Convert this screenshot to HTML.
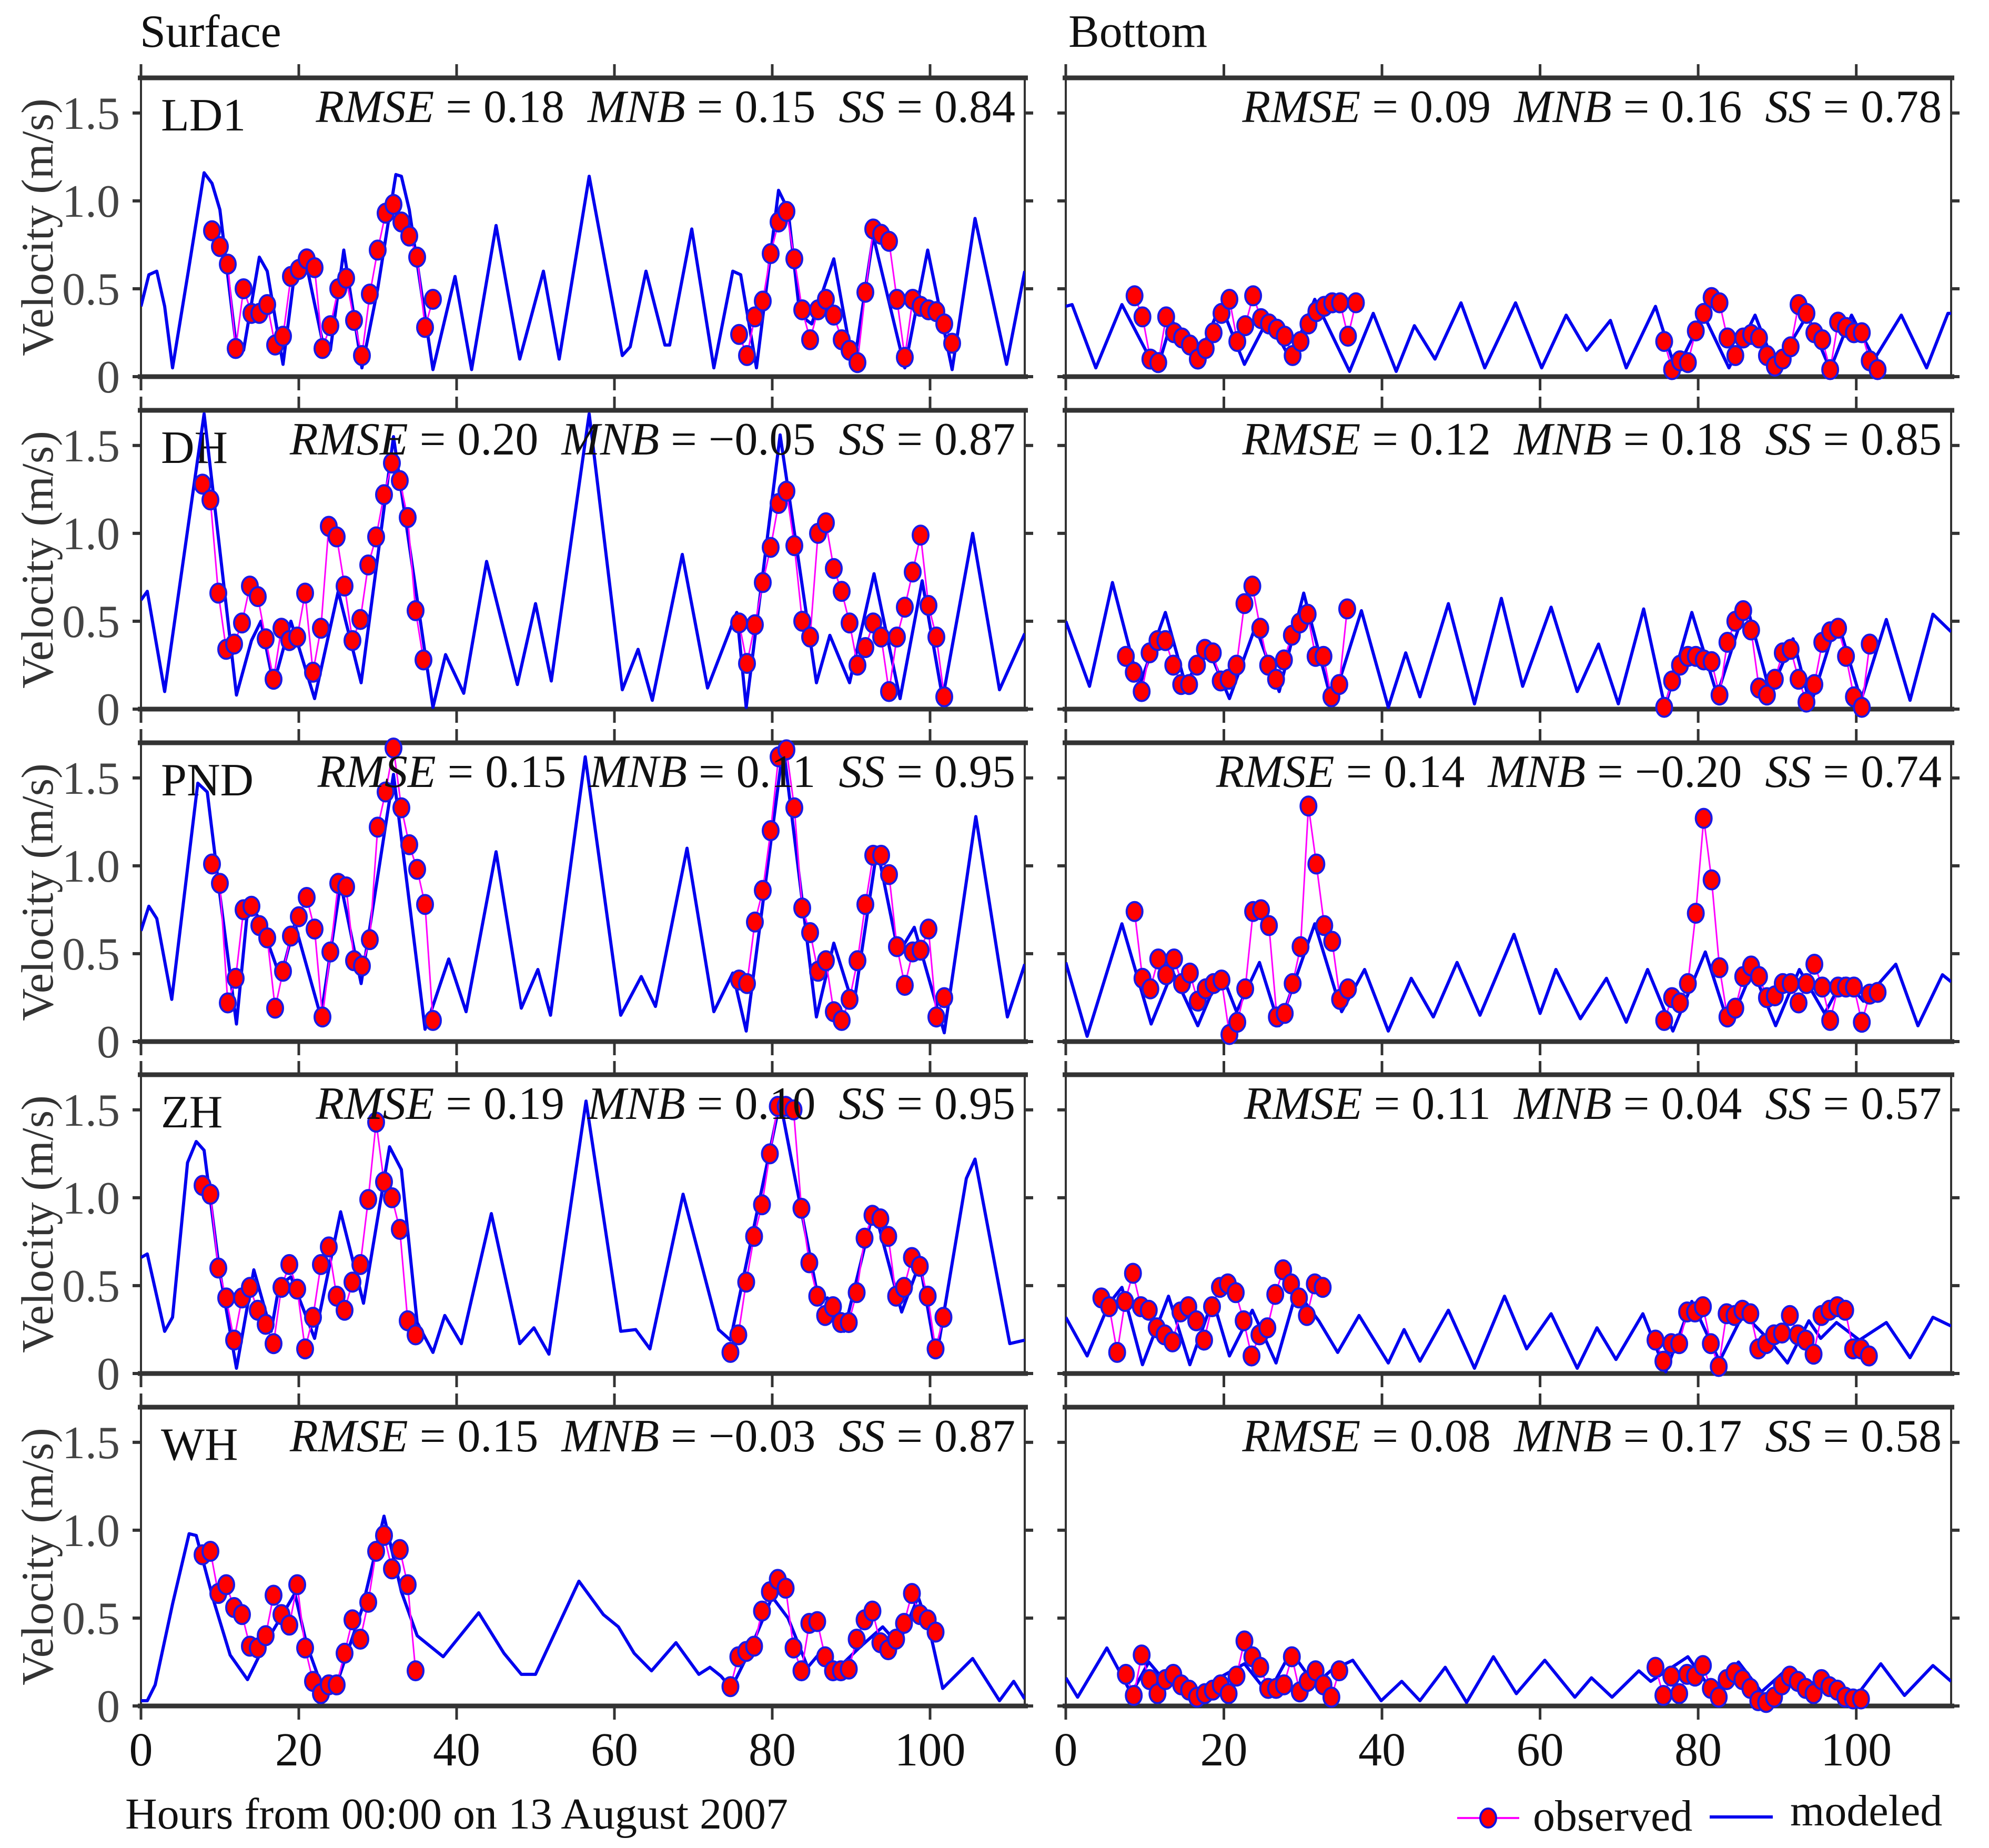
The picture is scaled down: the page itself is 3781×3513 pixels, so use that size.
<!DOCTYPE html>
<html><head><meta charset="utf-8"><title>Surface and bottom velocity: observed vs modeled</title>
<style>
html,body{margin:0;padding:0;background:#fff;}
svg{display:block;font-family:"Liberation Serif","DejaVu Serif",serif;}
text{white-space:pre;}
</style></head>
<body>
<svg id="chart" xmlns="http://www.w3.org/2000/svg" width="3781" height="3513" viewBox="0 0 3781 3513">
<rect x="0" y="0" width="3781" height="3513" fill="#fff"/>
<text x="266" y="89" font-size="88" fill="#111">Surface</text>
<text x="2031" y="89" font-size="88" fill="#111">Bottom</text>
<text x="238" y="3476" font-size="84" fill="#111">Hours from 00:00 on 13 August 2007</text>
<g>
  <line x1="2770" y1="3456" x2="2888" y2="3456" stroke="#ff00ff" stroke-width="4"/>
  <ellipse cx="2829" cy="3456" rx="15" ry="18" fill="#ff0000" stroke="#1010e0" stroke-width="4"/>
  <text x="2914" y="3480" font-size="84" fill="#111">observed</text>
  <line x1="3250" y1="3454" x2="3370" y2="3454" stroke="#0000ee" stroke-width="6"/>
  <text x="3403" y="3470" font-size="84" fill="#111">modeled</text>
</g>
<g id="panels"></g>
</svg>
<script>
// ---------- data ----------
const stations = ["LD1","DH","PND","ZH","WH"];
const surfStats = [["0.18","0.15","0.84"],["0.20","\u22120.05","0.87"],["0.15","0.11","0.95"],["0.19","0.10","0.95"],["0.15","\u22120.03","0.87"]];
const botStats  = [["0.09","0.16","0.78"],["0.12","0.18","0.85"],["0.14","\u22120.20","0.74"],["0.11","0.04","0.57"],["0.08","0.17","0.58"]];
const xTicks = [0,20,40,60,80,100];
const yTicks = [0,0.5,1.0,1.5];
const yTickLabels = ["0","0.5","1.0","1.5"];

// modeled series: [hour, velocity]
const ld1SurfModel = [[0,.4],[1,.58],[2,.6],[3,.4],[4,.05],[6,.6],[8,1.16],[9,1.1],[10,.95],[12,.2],[13,.15],[15,.68],[16,.6],[18,.07],[19.5,.6],[21,.63],[23,.2],[24,.15],[25.7,.72],[28,.05],[30,.5],[32.3,1.15],[33,1.14],[34,.95],[37,.04],[39.8,.57],[41.9,.04],[45,.86],[48,.1],[51,.6],[53,.1],[56.8,1.14],[61,.12],[62,.17],[64,.6],[66.4,.18],[67,.18],[69.8,.84],[72.6,.05],[75,.6],[76,.58],[78,.05],[80.8,1.06],[82,.95],[83.5,.35],[85,.3],[87.8,.67],[90.3,.05],[92.8,.8],[96.8,.05],[99.7,.72],[102.8,.04],[105.7,.9],[109.7,.07],[112,.6]];
const ld1BotModel = [[0,.4],[0.8,.41],[3.8,.05],[7.1,.41],[11.5,.03],[13.4,.32],[16.7,.1],[19.6,.41],[22.6,.07],[25.6,.33],[28.4,.1],[31.5,.44],[35.9,.03],[38.9,.36],[41.8,.03],[44.1,.29],[46.7,.1],[50,.42],[53,.05],[56.9,.42],[60.2,.05],[63.3,.35],[65.9,.15],[68.9,.32],[70.9,.05],[74.6,.4],[77.2,.03],[80.7,.35],[83.9,.05],[87.2,.35],[89.8,.05],[93.8,.35],[96.7,.04],[99.4,.35],[102.3,.1],[105.7,.35],[108.9,.05],[111.6,.36],[112,.36]];
const dhSurfModel = [[0,.62],[0.8,.67],[3,.1],[8,1.68],[9.9,.94],[12.1,.08],[14,.39],[15.2,.5],[16.8,.14],[19,.5],[22,.06],[25,.67],[27.9,.15],[32,1.55],[37,.01],[38.6,.31],[40.9,.09],[43.8,.84],[47.7,.14],[50,.6],[52,.16],[56.8,1.68],[61,.11],[63,.34],[64.8,.05],[68.6,.88],[71.8,.12],[75.5,.55],[76.7,.01],[81,1.56],[85.6,.15],[87.3,.42],[89.8,.15],[92.9,.77],[96.2,.06],[99,.73],[101.6,.06],[105.4,1.0],[108.8,.11],[112,.43]];
const dhBotModel = [[0,.5],[3,.13],[5.9,.72],[9.3,.13],[12.6,.55],[15.2,.13],[17.7,.38],[20.7,.06],[24,.47],[27,.1],[30.1,.66],[33.7,.03],[37.4,.56],[40.8,.01],[43,.32],[44.8,.07],[48.4,.6],[51.7,.03],[55.1,.63],[57.8,.13],[61.4,.58],[64.7,.1],[67.4,.37],[69.9,.03],[73.1,.57],[75.8,.01],[79.2,.55],[82.4,.08],[86.1,.6],[89.1,.09],[92,.4],[94.2,.02],[97.6,.51],[100.6,.05],[103.8,.51],[106.8,.05],[109.7,.54],[112,.44]];
const pndSurfModel = [[0,.63],[1,.77],[2,.7],[3.9,.24],[7.2,1.47],[8.4,1.42],[9.9,.87],[12.1,.1],[13.6,.79],[15,.7],[17.7,.36],[19.5,.67],[22.8,.14],[25.3,.9],[27.9,.33],[32,1.52],[36,.07],[39,.47],[41.2,.17],[45,1.08],[48.2,.19],[50.3,.41],[51.9,.15],[56.3,1.62],[60.8,.15],[63.4,.37],[65.2,.2],[69.2,1.1],[72.6,.17],[75,.39],[76.7,.06],[81.4,1.68],[85.6,.14],[87.8,.56],[90.3,.2],[93.3,1.1],[96,.5],[98,.65],[101.8,.05],[105.8,1.28],[109.8,.14],[112,.44]];
const pndBotModel = [[0,.45],[2.7,.03],[7.1,.67],[10.8,.1],[13.5,.4],[16.7,.09],[19.6,.4],[21.6,.17],[24.5,.45],[27,.09],[31.5,.67],[34.9,.17],[37.8,.41],[40.8,.06],[43.7,.36],[46.5,.14],[49.5,.45],[52.4,.15],[56.7,.61],[60,.16],[62,.41],[65.1,.13],[68.4,.36],[70.9,.11],[73.6,.41],[76.8,.06],[80.9,.51],[83.9,.09],[86.9,.41],[89.8,.09],[92.8,.41],[96,.16],[98.4,.36],[100.9,.23],[105,.44],[107.8,.09],[110.9,.38],[112,.34]];
const zhSurfModel = [[0,.66],[0.8,.68],[3,.24],[4,.32],[5.9,1.2],[7,1.32],[8,1.27],[9.9,.6],[12.1,.03],[14.3,.59],[16.5,.24],[17.5,.5],[19,.55],[22,.2],[25.3,.92],[28.2,.4],[31.5,1.29],[33,1.16],[35,.29],[37,.12],[38.5,.33],[40.6,.17],[44.4,.91],[48,.17],[49.8,.26],[51.7,.11],[56.4,1.55],[60.8,.24],[62.7,.25],[64.5,.14],[68.7,1.02],[73.2,.25],[74.7,.19],[81,1.55],[85.9,.41],[87,.43],[89.1,.24],[92.9,.94],[96.4,.35],[98.7,.63],[100.8,.09],[104.6,1.11],[105.7,1.22],[110.1,.17],[112,.19]];
const zhBotModel = [[0,.32],[2.7,.1],[5.5,.4],[7.1,.49],[9.7,.05],[13,.44],[15.7,.05],[18.6,.42],[20.7,.1],[23.6,.36],[26.6,.06],[29.2,.47],[32,.3],[34.4,.12],[37.1,.33],[40.8,.06],[42.8,.25],[44.8,.07],[48.4,.36],[51.7,.03],[55.5,.44],[58.3,.14],[61.4,.34],[64.7,.03],[67.2,.26],[69.6,.08],[73,.34],[75.9,.01],[79.2,.41],[82.7,.07],[85.7,.34],[89,.19],[91.3,.06],[94,.3],[95.5,.2],[97.5,.29],[100.4,.19],[103.8,.29],[106.8,.09],[109.7,.32],[112,.27]];
const whSurfModel = [[0,.03],[0.8,.03],[1.8,.12],[4,.58],[6.1,.98],[7,.97],[9.2,.6],[11.3,.29],[13.5,.15],[15.7,.35],[19.5,.64],[21,.35],[23,.1],[25,.15],[28,.55],[30.8,1.08],[33,.65],[35,.4],[38.3,.28],[42.8,.53],[46,.3],[48.2,.18],[50,.18],[55.5,.71],[58.6,.52],[60.5,.45],[62.5,.3],[64.7,.2],[67.8,.36],[70.7,.18],[72.1,.22],[73.5,.17],[74.8,.1],[77,.3],[80,.62],[82,.5],[84.5,.22],[86,.3],[88,.2],[91,.33],[94,.45],[96,.35],[98.5,.62],[100,.42],[101.6,.1],[105.4,.27],[108.8,.03],[110.6,.14],[112,.04]];
const whBotModel = [[0,.16],[1.5,.05],[5.2,.33],[8.3,.07],[10.5,.25],[12,.17],[13.7,.2],[16.7,.08],[19,.15],[22.6,.24],[25.6,.07],[28.5,.31],[31.5,.12],[33.5,.2],[36.3,.26],[39.9,.03],[42.5,.14],[44.8,.03],[48,.22],[50.7,.02],[54.1,.28],[57,.07],[60.6,.26],[64.4,.05],[66.5,.16],[69.1,.05],[72.5,.2],[74,.14],[78.7,.28],[82,.07],[85.1,.25],[88,.08],[91,.2],[93.5,.1],[96,.18],[99.9,.05],[103.1,.24],[106.1,.06],[109.7,.23],[112,.14]];

// observed series: hourly values, first hour given by start
const ld1SurfObsStart = [9, 75.8];
const ld1SurfObsA = [.83,.74,.64,.16,.5,.36,.36,.41,.18,.23,.57,.61,.67,.62,.16,.29,.5,.56,.32,.12,.47,.72,.93,.98,.88,.8,.68,.28,.44];
const ld1SurfObsB = [.24,.12,.34,.43,.7,.88,.94,.67,.38,.21,.38,.44,.35,.21,.15,.08,.48,.84,.81,.77,.44,.11,.44,.4,.38,.37,.3,.19];
const ld1BotObsStart = [8.7, 75.7];
const ld1BotObsA = [.46,.34,.1,.08,.34,.25,.22,.18,.1,.16,.25,.36,.44,.2,.29,.46,.33,.3,.27,.23,.12,.2,.3,.37,.4,.42,.42,.23,.42];
const ld1BotObsB = [.2,.04,.09,.08,.26,.36,.45,.42,.22,.12,.22,.24,.22,.12,.06,.1,.17,.41,.36,.25,.21,.04,.31,.28,.25,.25,.09,.04];
const dhSurfObsStart = [7.8, 75.8];
const dhSurfObsA = [1.28,1.19,.66,.34,.37,.49,.7,.64,.4,.17,.46,.39,.41,.66,.21,.46,1.04,.98,.7,.39,.51,.82,.98,1.22,1.4,1.3,1.09,.56,.28];
const dhSurfObsB = [.49,.26,.48,.72,.92,1.17,1.24,.93,.5,.41,1.0,1.06,.8,.67,.49,.25,.35,.49,.41,.1,.41,.58,.78,.99,.59,.41,.07];
const dhBotObsStart = [7.6, 75.7];
const dhBotObsA = [.3,.21,.1,.32,.39,.39,.25,.14,.14,.25,.34,.32,.16,.17,.25,.6,.7,.46,.25,.17,.28,.42,.49,.54,.3,.3,.07,.14,.57];
const dhBotObsB = [.01,.16,.25,.3,.3,.28,.27,.08,.38,.5,.56,.45,.12,.08,.17,.32,.34,.17,.04,.14,.38,.44,.46,.3,.07,.01,.37];
const pndSurfObsStart = [9, 75.8];
const pndSurfObsA = [1.01,.9,.22,.36,.75,.77,.66,.59,.19,.4,.6,.71,.82,.64,.14,.51,.9,.88,.46,.43,.58,1.22,1.42,1.67,1.33,1.12,.98,.78,.12];
const pndSurfObsB = [.35,.33,.68,.86,1.2,1.62,1.66,1.33,.76,.62,.4,.46,.17,.12,.24,.46,.78,1.06,1.06,.95,.54,.32,.51,.52,.64,.14,.25];
const pndBotObsStart = [8.7, 75.7];
const pndBotObsA = [.74,.36,.3,.47,.38,.47,.33,.39,.23,.3,.33,.35,.04,.11,.3,.74,.75,.66,.14,.16,.33,.54,1.34,1.01,.66,.57,.24,.3];
const pndBotObsB = [.12,.25,.22,.33,.73,1.27,.92,.42,.14,.19,.37,.43,.37,.25,.26,.33,.33,.22,.33,.44,.31,.12,.31,.31,.31,.11,.27,.28];
const zhSurfObsStart = [7.8, 74.7];
const zhSurfObsA = [1.07,1.02,.6,.43,.19,.43,.49,.36,.28,.17,.49,.62,.48,.14,.32,.62,.72,.44,.36,.52,.62,.99,1.43,1.09,1.0,.82,.3,.22];
const zhSurfObsB = [.12,.22,.52,.78,.96,1.25,1.52,1.52,1.5,.94,.63,.44,.33,.38,.29,.29,.46,.77,.9,.88,.78,.44,.49,.66,.61,.44,.14,.32];
const zhBotObsStart = [4.5, 74.6];
const zhBotObsA = [.43,.38,.12,.41,.57,.38,.36,.26,.22,.18,.35,.38,.3,.19,.38,.49,.51,.46,.3,.1,.22,.26,.45,.59,.51,.43,.33,.51,.49];
const zhBotObsB = [.19,.07,.17,.17,.35,.35,.38,.17,.04,.34,.33,.36,.34,.14,.17,.22,.23,.33,.22,.19,.11,.33,.36,.38,.36,.14,.14,.1];
const whSurfObsStart = [7.8, 74.7];
const whSurfObsA = [.86,.88,.64,.69,.56,.52,.34,.33,.4,.63,.52,.46,.69,.33,.14,.07,.12,.12,.3,.49,.38,.59,.88,.97,.78,.89,.69,.2];
const whSurfObsB = [.11,.28,.31,.34,.54,.65,.72,.67,.33,.2,.47,.48,.28,.2,.2,.21,.38,.49,.54,.36,.32,.38,.47,.64,.52,.49,.42];
const whBotObsStart = [7.6, 74.6];
const whBotObsA = [.18,.06,.29,.15,.07,.15,.18,.12,.09,.05,.07,.09,.12,.07,.17,.37,.28,.22,.1,.1,.12,.28,.08,.14,.2,.12,.05,.2];
const whBotObsB = [.22,.06,.17,.07,.18,.17,.23,.1,.05,.15,.19,.15,.1,.03,.02,.05,.12,.17,.14,.1,.07,.15,.11,.09,.05,.04,.04];

const surfModels = [ld1SurfModel, dhSurfModel, pndSurfModel, zhSurfModel, whSurfModel];
const botModels  = [ld1BotModel, dhBotModel, pndBotModel, zhBotModel, whBotModel];
const surfObs = [[ld1SurfObsStart,ld1SurfObsA,ld1SurfObsB],[dhSurfObsStart,dhSurfObsA,dhSurfObsB],[pndSurfObsStart,pndSurfObsA,pndSurfObsB],[zhSurfObsStart,zhSurfObsA,zhSurfObsB],[whSurfObsStart,whSurfObsA,whSurfObsB]];
const botObs  = [[ld1BotObsStart,ld1BotObsA,ld1BotObsB],[dhBotObsStart,dhBotObsA,dhBotObsB],[pndBotObsStart,pndBotObsA,pndBotObsB],[zhBotObsStart,zhBotObsA,zhBotObsB],[whBotObsStart,whBotObsA,whBotObsB]];

// ---------- layout ----------
const NS = "http://www.w3.org/2000/svg";
const colX = [[268,1948],[2026,3709]];
const rowTop = [148,780,1412,2043,2675];
const panelH = 568;
const X_MAX = 112, Y_MAX = 1.7;
const root = document.getElementById('panels');
const svg = document.getElementById('chart');
const defs = document.createElementNS(NS,'defs');
svg.insertBefore(defs, svg.firstChild);

function mk(tag, attrs, parent){
  const e = document.createElementNS(NS, tag);
  for (const k in attrs) e.setAttribute(k, attrs[k]);
  parent.appendChild(e);
  return e;
}

function drawPanel(r, c){
  const x0 = colX[c][0], x1 = colX[c][1], y0 = rowTop[r], y1 = rowTop[r] + panelH;
  const xs = t => x0 + (t / X_MAX) * (x1 - x0);
  const ys = v => y1 - (v / Y_MAX) * (y1 - y0);
  const key = stations[r].toLowerCase() + (c === 0 ? '-surface' : '-bottom');
  const g = mk('g', {}, root);
  
  

  const cp = mk('clipPath', {id: 'clip-' + key}, defs);
  mk('rect', {x: x0, y: y0 - 30, width: x1 - x0, height: panelH + 60}, cp);

  xTicks.forEach(t => {
    const tt = mk('line', {x1: xs(t), x2: xs(t), y1: y0 - 26, y2: y0, stroke: '#333', 'stroke-width': 5}, g);
    
    
    const tb = mk('line', {x1: xs(t), x2: xs(t), y1: y1, y2: y1 + 26, stroke: '#333', 'stroke-width': 5}, g);
    
    
  });
  yTicks.forEach((v, i) => {
    const tl = mk('line', {x1: x0 - 16, x2: x0, y1: ys(v), y2: ys(v), stroke: '#333', 'stroke-width': 6}, g);
    
    
    const tr = mk('line', {x1: x1, x2: x1 + 16, y1: ys(v), y2: ys(v), stroke: '#333', 'stroke-width': 6}, g);
    
    
    if (c === 0) {
      const lb = mk('text', {x: x0 - 40, y: ys(v) + 30, 'font-size': 88, fill: '#444', 'text-anchor': 'end'}, g);
      
      
      lb.textContent = yTickLabels[i];
    }
  });
  if (r === 4) {
    xTicks.forEach(t => {
      const lb = mk('text', {x: xs(t), y: 3356, 'font-size': 90, fill: '#111', 'text-anchor': 'middle'}, g);
      
      
      lb.textContent = String(t);
    });
  }

  const fr = mk('rect', {x: x0, y: y0, width: x1 - x0, height: panelH, fill: 'none', stroke: '#333', 'stroke-width': 4}, g);
  
  
  const ft = mk('line', {x1: x0 - 6, x2: x1 + 6, y1: y0, y2: y0, stroke: '#333', 'stroke-width': 9}, g);
  
  
  const fb = mk('line', {x1: x0 - 6, x2: x1 + 6, y1: y1, y2: y1, stroke: '#333', 'stroke-width': 9}, g);
  
  

  if (c === 0) {
    const cy = (y0 + y1) / 2;
    const yt = mk('text', {x: 100, y: cy, 'font-size': 86, fill: '#333', 'text-anchor': 'middle', transform: 'rotate(-90 100 ' + cy + ')'}, g);
    
    
    yt.textContent = 'Velocity (m/s)';
    const st = mk('text', {x: 306, y: y0 + 100, 'font-size': 88, fill: '#111'}, g);
    
    
    st.textContent = stations[r];
  }

  const model = (c === 0 ? surfModels : botModels)[r];
  const ml = mk('polyline', {points: model.map(p => xs(p[0]).toFixed(1) + ',' + ys(p[1]).toFixed(1)).join(' '), fill: 'none', stroke: '#0000ee', 'stroke-width': 6, 'stroke-linejoin': 'round', 'clip-path': 'url(#clip-' + key + ')'}, g);
  
  

  const ob = (c === 0 ? surfObs : botObs)[r];
  [ob[1], ob[2]].forEach((vals, k) => {
    const start = ob[0][k];
    const pts = vals.map((v, i) => [xs(start + i), ys(v)]);
    const ol = mk('polyline', {points: pts.map(p => p[0].toFixed(1) + ',' + p[1].toFixed(1)).join(' '), fill: 'none', stroke: '#ff00ff', 'stroke-width': 3}, g);
    
    
    pts.forEach(p => {
      const m = mk('ellipse', {cx: p[0], cy: p[1], rx: 15, ry: 18, fill: '#ff0000', stroke: '#1a1ae6', 'stroke-width': 4}, g);
      
      
    });
  });

  const s = (c === 0 ? surfStats : botStats)[r];
  const tx = mk('text', {x: x1 - 18, y: y0 + 84, 'font-size': 88, fill: '#111', 'text-anchor': 'end'}, g);
  
  
  const parts = [['RMSE', true], [' = ' + s[0] + '  ', false], ['MNB', true], [' = ' + s[1] + '  ', false], ['SS', true], [' = ' + s[2], false]];
  parts.forEach(p => {
    const ts = mk('tspan', {}, tx);
    if (p[1]) ts.setAttribute('font-style', 'italic');
    ts.textContent = p[0];
  });
}

for (let r = 0; r < 5; r++) { drawPanel(r, 0); drawPanel(r, 1); }
</script>
</body></html>
